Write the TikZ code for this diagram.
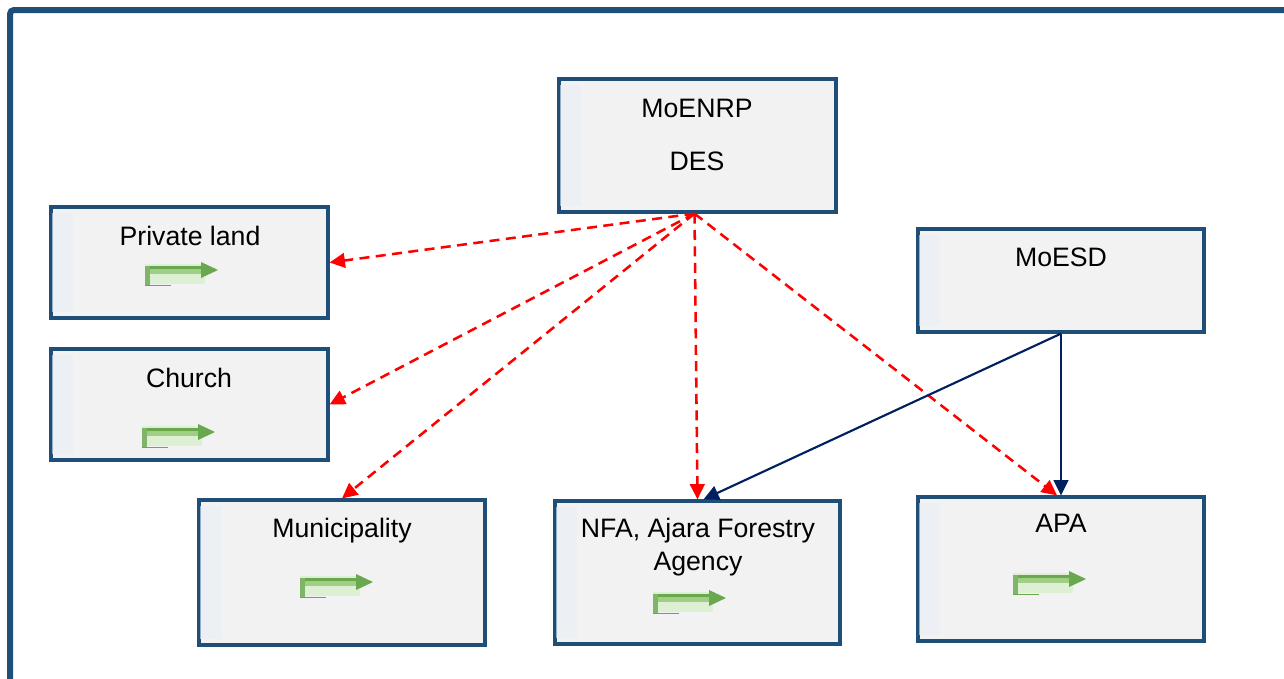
\documentclass[tikz,border=0pt]{standalone}
\usepackage{fontspec}
\setmainfont{Liberation Sans}
\usetikzlibrary{arrows.meta,calc,fit}
\definecolor{frameblue}{RGB}{31,78,121}
\definecolor{boxfill}{RGB}{242,242,242}
\definecolor{navy}{RGB}{0,32,96}
\definecolor{gdark}{RGB}{106,168,79}
\definecolor{gmid}{RGB}{160,206,132}
\definecolor{glight}{RGB}{222,240,212}
\definecolor{stripe}{RGB}{232,240,248}
\begin{document}
\begin{tikzpicture}[x=0.75pt,y=-0.75pt,
  box/.style={draw=frameblue, line width=2.4pt, fill=boxfill, inner sep=0pt, rectangle},
  lbl/.style={font=\fontsize{20}{24}\selectfont, anchor=base, inner sep=0pt},
  redarrow/.style={draw=red, line width=1.9pt, dash pattern=on 7.5pt off 4.8pt,
     -{Triangle[length=11.5pt,width=11pt,fill=red]}},
  navyarrow/.style={draw=navy, line width=1.6pt, -{Triangle[length=11.5pt,width=11pt,fill=navy]}},
  garrow/.pic={
    \fill[glight] (0,2) rectangle (60,22);
    \fill[gmid] (0,4) rectangle (58,12);
    \fill[gdark] (0,4) rectangle (58,7);
    \fill[gdark!85] (0,4) rectangle (4.5,24);
    \draw[gdark, line width=1.1pt] (0,23.5) -- (26,23.5);
    \fill[gdark] (56,0) -- (73,8) -- (56,16) -- cycle;
  }]
\useasboundingbox (0,0) rectangle (1284,678);
\clip (0,0) rectangle (1284,678);
\fill[white] (0,0) rectangle (1284,678);
\draw[frameblue, line width=4.5pt, rounded corners=3] (10,10) rectangle (1310,710);

% boxes
\node[box, fit={(559,79)(836,212)}] (moenrp) {};
\node[box, fit={(51,207)(328,318)}] (priv) {};
\node[box, fit={(51,349)(328,460)}] (church) {};
\node[box, fit={(918,229)(1204,332)}] (moesd) {};
\node[box, fit={(199,500)(485,645)}] (muni) {};
\node[box, fit={(555,501)(840,644)}] (nfa) {};
\node[box, fit={(918,497)(1204,641)}] (apa) {};

% faint left stripes
\foreach \b in {moenrp,priv,church,moesd,muni,nfa,apa}{
  \fill[stripe, opacity=0.6] ($(\b.north west)+(3,8)$) rectangle ($(\b.south west)+(24,-8)$);
}

% labels
\node[lbl] (t1) at (697,117) {MoENRP};
\node[lbl] (t2) at (697,170) {DES};
\node[lbl] (t3) at (190,245) {Private land};
\node[lbl] (t4) at (189,387) {Church};
\node[lbl] (t5) at (1061,266) {MoESD};
\node[lbl] (t6) at (342,537) {Municipality};
\node[lbl] (t7) at (698,537) {NFA, Ajara Forestry};
\node[lbl] (t8) at (698,570) {Agency};
\node[lbl] (t9) at (1061,532) {APA};

% green icons
\pic at (145,262) {garrow};
\pic at (142,424) {garrow};
\pic at (300,574) {garrow};
\pic at (653,590) {garrow};
\pic at (1013,571) {garrow};

% connectors
\coordinate (src) at ($(moenrp.south)+(-3,0)$);
\draw[redarrow] (src) -- (priv.east);
\draw[redarrow] (src) -- (church.east);
\draw[redarrow] (src) -- (muni.north);
\draw[redarrow] (src) -- (nfa.north);
\draw[redarrow] (src) -- ($(apa.north)+(-4,0)$);
\draw[navyarrow] (moesd.south) -- ($(nfa.north)+(6,0)$);
\draw[navyarrow] (moesd.south) -- (apa.north);
\end{tikzpicture}
\end{document}
